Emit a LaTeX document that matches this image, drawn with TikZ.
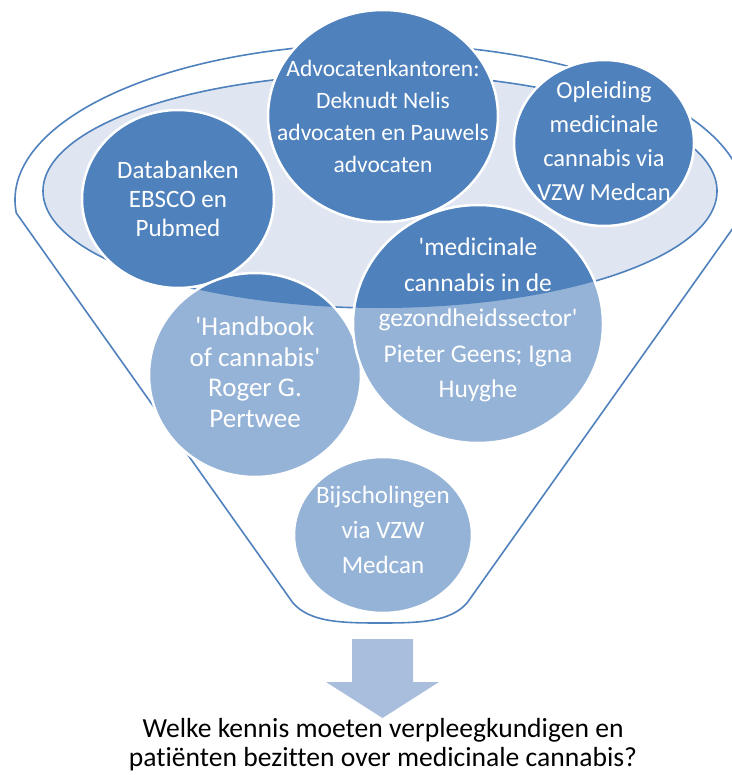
\documentclass[tikz,border=0pt]{standalone}
\usepackage{fontspec}
\setmainfont{Carlito}[Ligatures=NoCommon]
\definecolor{funnelblue}{HTML}{4F81BD}
\definecolor{paleblue}{HTML}{95B3D7}
\definecolor{rimfill}{HTML}{DFE6F2}
\definecolor{arrowblue}{HTML}{A9BEDD}

\begin{document}
\begin{tikzpicture}[x=1pt, y=-1pt]
    \tikzstyle{rim} = [draw=funnelblue, line width=1.6pt]
    \tikzstyle{topbubble} = [fill=funnelblue, draw=white, line width=2.5pt]
    \tikzstyle{lowbubble} = [fill=paleblue]
    \tikzstyle{ring} = [draw=white, line width=2.5pt]
    \tikzstyle{bubbletext} = [text=white, align=center, inner sep=0pt]
    \useasboundingbox (0,0) rectangle (731,775);

    % funnel body and rim
    \draw[rim] (16.3,213) arc[start angle=175.2, end angle=364.8, x radius=365, y radius=156]
        -- (467,603) .. controls (450,622) and (420,623) .. (380,623)
        .. controls (340,623) and (310,622) .. (293,603) -- cycle;
    \filldraw[rim, fill=rimfill] (380,191) ellipse [x radius=337, y radius=117];

    % sources inside the rim
    \filldraw[topbubble] (178,199) ellipse [x radius=96, y radius=89];
    \node[bubbletext, font=\fontsize{25}{29}\selectfont] (db) at (178,199) {Databanken\\EBSCO en\\Pubmed};
    \filldraw[topbubble] (383,116) ellipse [x radius=115, y radius=106];
    \node[bubbletext, font=\fontsize{23.5}{32}\selectfont] (adv) at (383,116) {Advocatenkantoren:\\Deknudt Nelis\\advocaten en Pauwels\\advocaten};
    \filldraw[topbubble] (604,143) ellipse [x radius=90, y radius=83];
    \node[bubbletext, font=\fontsize{24.5}{34}\selectfont] (opl) at (604,141) {Opleiding\\medicinale\\cannabis via\\VZW Medcan};

    % sources half in the funnel
    \fill[lowbubble] (255,375) ellipse [x radius=106, y radius=102];
    \begin{scope}
        \clip (380,191) ellipse [x radius=337, y radius=117];
        \fill[funnelblue] (255,375) ellipse [x radius=106, y radius=102];
    \end{scope}
    \draw[ring] (255,375) ellipse [x radius=106, y radius=102];
    \node[bubbletext, font=\fontsize{27}{30.5}\selectfont] (hb) at (255,372) {\textquotesingle Handbook\\of cannabis\textquotesingle\\Roger G.\\Pertwee};

    \fill[lowbubble] (478,324) ellipse [x radius=125, y radius=119];
    \begin{scope}
        \clip (380,191) ellipse [x radius=337, y radius=117];
        \fill[funnelblue] (478,324) ellipse [x radius=125, y radius=119];
    \end{scope}
    \draw[ring] (478,324) ellipse [x radius=125, y radius=119];
    \node[bubbletext, font=\fontsize{25.5}{35.5}\selectfont] (med) at (478,320) {\textquotesingle medicinale\\cannabis in de\\gezondheidssector\textquotesingle\\Pieter Geens; Igna\\Huyghe};

    \filldraw[lowbubble, ring] (383,535) ellipse [x radius=89, y radius=78];
    \node[bubbletext, font=\fontsize{25}{35}\selectfont] (bij) at (383,530) {Bijscholingen\\via VZW\\Medcan};

    % outlet arrow and question
    \fill[arrowblue] (352,639) -- (413,639) -- (413,682) -- (439,682) -- (382.5,718) -- (326,682) -- (352,682) -- cycle;
    \node[align=center, inner sep=0pt, font=\fontsize{27.6}{29}\selectfont] (vraag) at (383,745) {Welke kennis moeten verpleegkundigen en\\patiënten bezitten over medicinale cannabis?};
\end{tikzpicture}
\end{document}
